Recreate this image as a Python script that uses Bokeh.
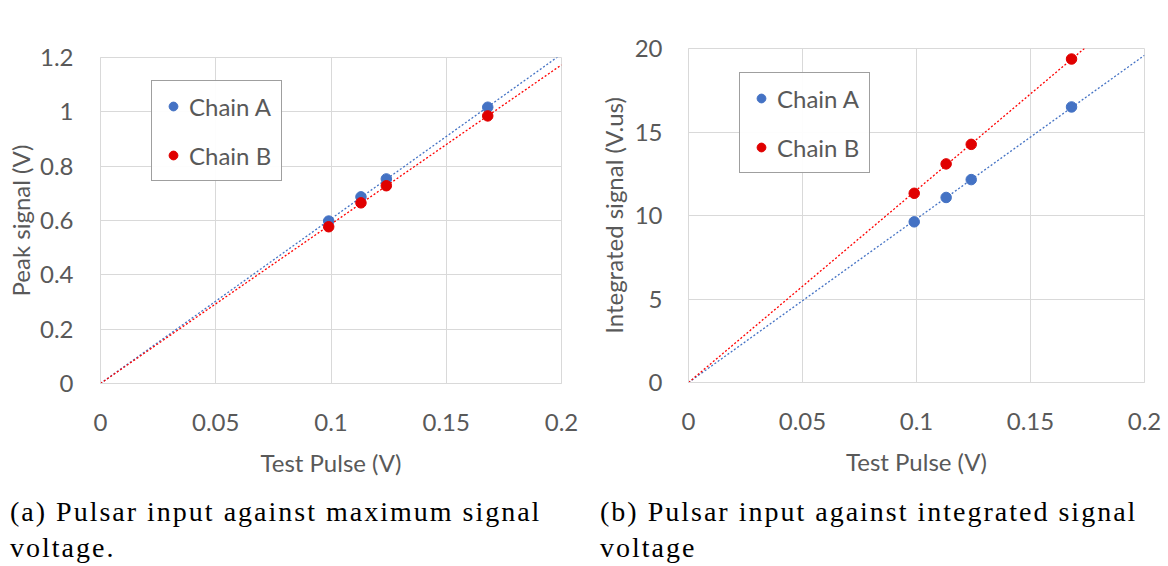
import numpy as np
from bokeh.plotting import figure
from bokeh.layouts import row, column
from bokeh.models import Range1d, FixedTicker, Legend, LegendItem, Div
from bokeh.embed import file_html
from bokeh.resources import INLINE

# ---- data ----
test_pulse = [0.099, 0.113, 0.124, 0.168]
peak_a = [0.598, 0.687, 0.753, 1.017]
peak_b = [0.577, 0.665, 0.728, 0.985]
integ_a = [9.62, 11.08, 12.15, 16.50]
integ_b = [11.33, 13.09, 14.26, 19.37]

x_ticks = [0, 0.05, 0.1, 0.15, 0.2]
x_tick_labels = ["0", "0.05", "0.1", "0.15", "0.2"]
peak_ticks = [0, 0.2, 0.4, 0.6, 0.8, 1.0, 1.2]
peak_tick_labels = ["0", "0.2", "0.4", "0.6", "0.8", "1", "1.2"]
integ_ticks = [0, 5, 10, 15, 20]
integ_tick_labels = ["0", "5", "10", "15", "20"]

series_names = ["Chain A", "Chain B"]
captions_a = ["(a) Pulsar input against maximum signal", "voltage."]
captions_b = ["(b) Pulsar input against integrated signal", "voltage"]

BLUE = "#4472C4"
RED = "#E00000"
RED_LINE = "#FF0000"
GRID = "#D9D9D9"
TXT = "#595959"
FONT = "Lato"
SERIF = "Liberation Serif"


def slope_through_origin(x, y):
    x = np.asarray(x, float)
    y = np.asarray(y, float)
    return float((x * y).sum() / (x * x).sum())


def make_panel(ya, yb, yticks, ylabels, ylabel, frame, borders, legend_loc, y_std, ylab_std):
    fw, fh = frame
    left, right, top, bottom = borders
    p = figure(frame_width=fw, frame_height=fh, output_backend="svg", toolbar_location=None,
               x_range=Range1d(x_ticks[0], x_ticks[-1]),
               y_range=Range1d(yticks[0], yticks[-1]),
               min_border_left=left, min_border_right=right,
               min_border_top=top, min_border_bottom=bottom)
    p.outline_line_color = GRID
    p.background_fill_color = "white"
    p.border_fill_color = "white"

    p.xaxis.ticker = FixedTicker(ticks=x_ticks)
    p.xaxis.major_label_overrides = {t: l for t, l in zip(x_ticks, x_tick_labels)}
    p.yaxis.ticker = FixedTicker(ticks=yticks)
    p.yaxis.major_label_overrides = {t: l for t, l in zip(yticks, ylabels)}
    p.xgrid.ticker = FixedTicker(ticks=x_ticks)
    p.ygrid.ticker = FixedTicker(ticks=yticks)
    p.grid.grid_line_color = GRID
    p.grid.grid_line_width = 1

    for ax in (p.xaxis, p.yaxis):
        ax.axis_line_color = GRID
        ax.major_tick_line_color = None
        ax.minor_tick_line_color = None
        ax.major_label_text_font = FONT
        ax.major_label_text_font_size = "24px"
        ax.major_label_text_color = TXT
        ax.axis_label_text_font = FONT
        ax.axis_label_text_font_size = "24px"
        ax.axis_label_text_font_style = "normal"
        ax.axis_label_text_color = TXT
    p.xaxis.axis_label = "Test Pulse (V)"
    p.yaxis.axis_label = ylabel
    p.xaxis.major_label_standoff = 24
    p.xaxis.axis_label_standoff = 14
    p.yaxis.major_label_standoff = y_std
    p.yaxis.axis_label_standoff = ylab_std

    x0, x1 = x_ticks[0], x_ticks[-1]
    items = []
    for ys, c, lc, name in ((ya, BLUE, BLUE, series_names[0]), (yb, RED, RED_LINE, series_names[1])):
        k = slope_through_origin(test_pulse, ys)
        p.line([x0, x1], [k * x0, k * x1], line_color=lc, line_width=1.3, line_dash="2 2")
        r = p.scatter(test_pulse, ys, size=10.5, fill_color=c, line_color=c)
        items.append(LegendItem(label=name, renderers=[r]))

    leg = Legend(items=items, location=legend_loc)
    leg.label_text_font = FONT
    leg.label_text_font_size = "24px"
    leg.label_text_color = TXT
    leg.border_line_color = "#404040"
    leg.border_line_width = 1
    leg.padding = 10
    leg.spacing = 19
    leg.glyph_width = 22
    leg.glyph_height = 30
    leg.label_height = 30
    leg.label_standoff = 5
    leg.margin = 0
    p.add_layout(leg)
    return p


p1 = make_panel(peak_a, peak_b, peak_ticks, peak_tick_labels, "Peak signal (V)",
                (461, 326), (100, 23, 57, 97), (51, 202), 21, 2)
p2 = make_panel(integ_a, integ_b, integ_ticks, integ_tick_labels, "Integrated signal (V.us)",
                (456, 334), (104, 24, 48, 98), (51, 209), 20, 4)


def caption(lines, left):
    style = {"font-family": SERIF, "font-size": "28px", "line-height": "36px",
             "letter-spacing": "2px", "color": "black", "white-space": "nowrap"}
    return Div(text="<br>".join(lines), styles=style, width=560, height=72,
               margin=(14, 584 - 560 - left, 0, left))


d1 = caption(captions_a, 10)
d2 = caption(captions_b, 16)

layout = column(row(column(p1), column(p2)), row(d1, d2))
open("out.html", "w").write(file_html(layout, INLINE))
